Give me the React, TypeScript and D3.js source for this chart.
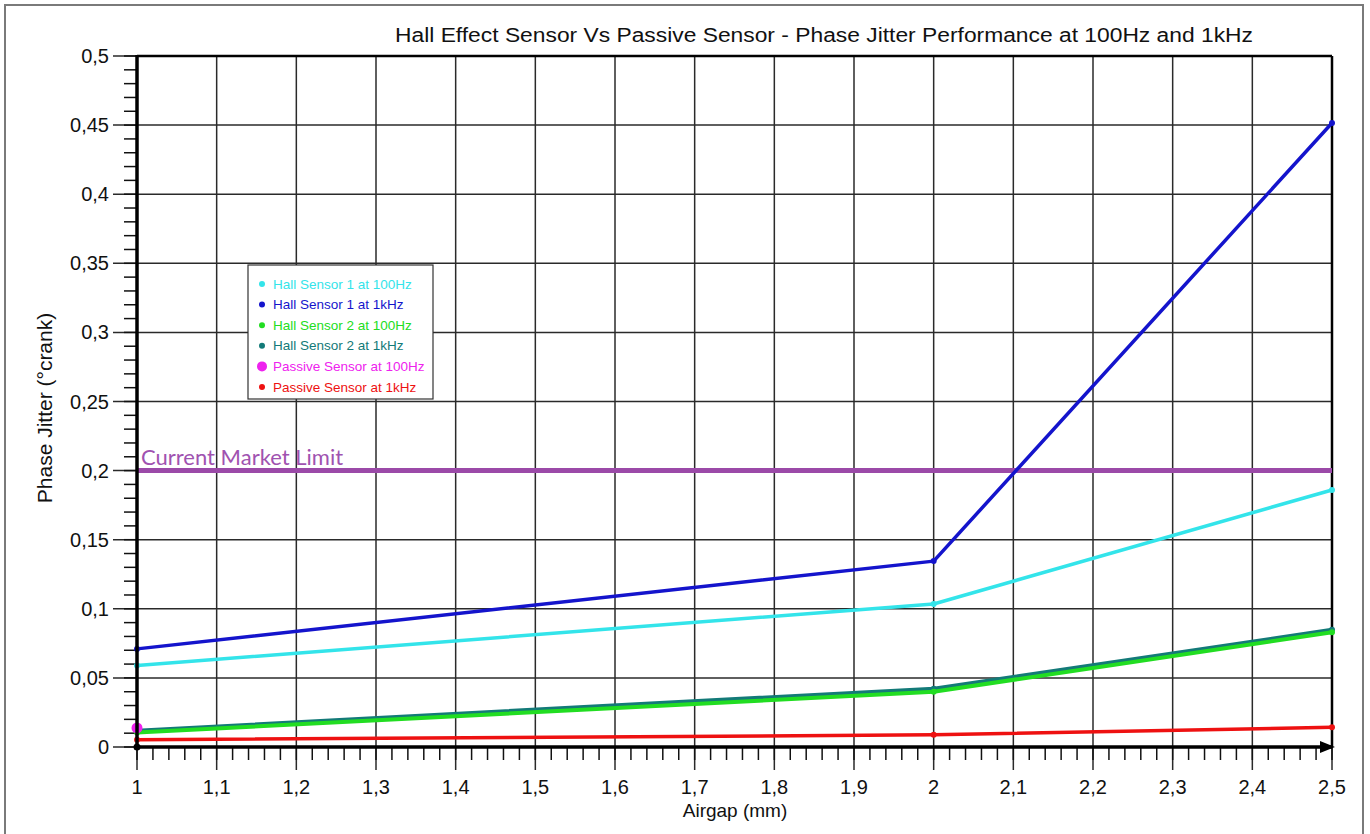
import React from "react";
import * as d3 from "d3";

const airgap = [1, 2, 2.5];
const hall1At100 = [0.059, 0.1035, 0.186];
const hall1At1k = [0.071, 0.1345, 0.4515];
const hall2At100 = [0.0105, 0.04, 0.083];
const hall2At1k = [0.0118, 0.0422, 0.0848];
const passiveAt100X = [1];
const passiveAt100 = [0.0138];
const passiveAt1k = [0.0052, 0.0088, 0.0143];
const marketLimit = 0.2;

const yMajorTicks = [0, 0.05, 0.1, 0.15, 0.2, 0.25, 0.3, 0.35, 0.4, 0.45, 0.5];
const xMajorTicks = [1, 1.1, 1.2, 1.3, 1.4, 1.5, 1.6, 1.7, 1.8, 1.9, 2, 2.1, 2.2, 2.3, 2.4, 2.5];

const title = "Hall Effect Sensor Vs Passive Sensor - Phase Jitter Performance at 100Hz and 1kHz";

type Series = { name: string; xs: number[]; ys: number[]; color: string; width: number; r: number };

const series: Series[] = [
  { name: "Hall Sensor 2 at 1kHz", xs: airgap, ys: hall2At1k, color: "#137a78", width: 4, r: 3 },
  { name: "Hall Sensor 2 at 100Hz", xs: airgap, ys: hall2At100, color: "#22dd22", width: 4, r: 3 },
  { name: "Passive Sensor at 1kHz", xs: airgap, ys: passiveAt1k, color: "#ee1111", width: 3.5, r: 3 },
  { name: "Hall Sensor 1 at 100Hz", xs: airgap, ys: hall1At100, color: "#33e4ea", width: 3.5, r: 3 },
  { name: "Hall Sensor 1 at 1kHz", xs: airgap, ys: hall1At1k, color: "#1414cc", width: 3.5, r: 3 },
  { name: "Passive Sensor at 100Hz", xs: passiveAt100X, ys: passiveAt100, color: "#ee22ee", width: 3, r: 5.5 },
];

const legendOrder = [
  "Hall Sensor 1 at 100Hz",
  "Hall Sensor 1 at 1kHz",
  "Hall Sensor 2 at 100Hz",
  "Hall Sensor 2 at 1kHz",
  "Passive Sensor at 100Hz",
  "Passive Sensor at 1kHz",
];

const fmt = (v: number) => String(+v.toFixed(3)).replace(".", ",");

export default function App() {
  const W = 1370;
  const H = 834;
  const x = d3.scaleLinear().domain([1, 2.5]).range([137, 1332]);
  const y = d3.scaleLinear().domain([0, 0.5]).range([747, 56]);
  const line = d3
    .line<[number, number]>()
    .x((d) => x(d[0]))
    .y((d) => y(d[1]));

  const yMinor = d3.range(0, 0.5001, 0.01);
  const xMinor = d3.range(1, 2.5001, 0.02);
  const font = "'Liberation Sans', Arial, sans-serif";

  return (
    <svg
      width={W}
      height={H}
      style={{ position: "absolute", left: 0, top: 0, background: "#fff" }}
    >
      <rect x={5} y={5} width={1358} height={840} fill="#fff" stroke="#7a7a7a" strokeWidth={2} />
      <text
        x={395}
        y={42}
        fontFamily={font}
        fontSize={20}
        fill="#111"
        textLength={858}
        lengthAdjust="spacingAndGlyphs"
      >
        {title}
      </text>

      {/* horizontal grid + major y ticks */}
      {yMajorTicks.map((t) => (
        <line key={"hy" + t} x1={113} x2={x(2.5)} y1={y(t)} y2={y(t)} stroke="#2a2a2a" strokeWidth={1.5} />
      ))}
      {/* vertical grid + major x ticks */}
      {xMajorTicks.map((t) => (
        <line key={"vx" + t} x1={x(t)} x2={x(t)} y1={y(0.5)} y2={770} stroke="#2a2a2a" strokeWidth={1.5} />
      ))}
      {/* minor ticks */}
      {yMinor.map((t, i) => (
        <line key={"my" + i} x1={124} x2={137} y1={y(t)} y2={y(t)} stroke="#111" strokeWidth={1.5} />
      ))}
      {xMinor.map((t, i) => (
        <line key={"mx" + i} x1={x(t)} x2={x(t)} y1={747} y2={760} stroke="#111" strokeWidth={1.5} />
      ))}

      {/* top & right frame */}
      <line x1={x(1)} x2={x(2.5)} y1={y(0.5)} y2={y(0.5)} stroke="#000" strokeWidth={2.5} />
      <line x1={x(2.5)} x2={x(2.5)} y1={y(0.5)} y2={y(0)} stroke="#000" strokeWidth={2.5} />

      {/* tick labels */}
      {yMajorTicks.map((t) => (
        <text key={"ly" + t} x={109} y={y(t) + 7} textAnchor="end" fontFamily={font} fontSize={20} fill="#111">
          {fmt(t)}
        </text>
      ))}
      {xMajorTicks.map((t) => (
        <text key={"lx" + t} x={x(t)} y={794} textAnchor="middle" fontFamily={font} fontSize={20} fill="#111">
          {fmt(t)}
        </text>
      ))}

      {/* axis titles */}
      <text x={735} y={817} textAnchor="middle" fontFamily={font} fontSize={19} fill="#111">
        Airgap (mm)
      </text>
      <text
        transform={`translate(52, 408) rotate(-90)`}
        textAnchor="middle"
        fontFamily={font}
        fontSize={21}
        fill="#111"
      >
        Phase Jitter (°crank)
      </text>

      {/* market limit */}
      <line x1={x(1)} x2={x(2.5)} y1={y(marketLimit)} y2={y(marketLimit)} stroke="#9b4aa8" strokeWidth={5} />
      <text x={141} y={465} fontFamily="Lato, 'Open Sans', sans-serif" fontSize={22} fill="#a052b0">
        Current Market Limit
      </text>

      {/* series */}
      {series.map((s) => {
        const pts: [number, number][] = s.xs.map((v, i) => [v, s.ys[i]]);
        return (
          <g key={s.name}>
            {pts.length > 1 && (
              <path d={line(pts) || ""} fill="none" stroke={s.color} strokeWidth={s.width} strokeLinejoin="round" />
            )}
            {pts.map((p, i) => (
              <circle key={i} cx={x(p[0])} cy={y(p[1])} r={s.r} fill={s.color} />
            ))}
          </g>
        );
      })}

      {/* axes */}
      <line x1={x(1)} x2={x(1)} y1={y(0.5) - 1} y2={y(0)} stroke="#000" strokeWidth={3.5} />
      <line x1={x(1)} x2={x(2.5)} y1={y(0)} y2={y(0)} stroke="#000" strokeWidth={3.5} />
      <path d={`M${x(2.5) - 12},${y(0) - 6} L${x(2.5) + 3},${y(0)} L${x(2.5) - 12},${y(0) + 6} Z`} fill="#000" />
      <circle cx={x(1)} cy={y(0)} r={3.5} fill="#000" />

      {/* legend */}
      <rect x={248} y={265} width={185} height={134} fill="#fff" stroke="#333" strokeWidth={1.2} />
      {legendOrder.map((name, i) => {
        const s = series.find((d) => d.name === name)!;
        const cy = 284 + i * 20.6;
        return (
          <g key={name}>
            <circle cx={262} cy={cy} r={name === "Passive Sensor at 100Hz" ? 5 : 3} fill={s.color} />
            <text x={273} y={cy + 4.5} fontFamily={font} fontSize={13.5} fill={s.color}>
              {name}
            </text>
          </g>
        );
      })}
    </svg>
  );
}
